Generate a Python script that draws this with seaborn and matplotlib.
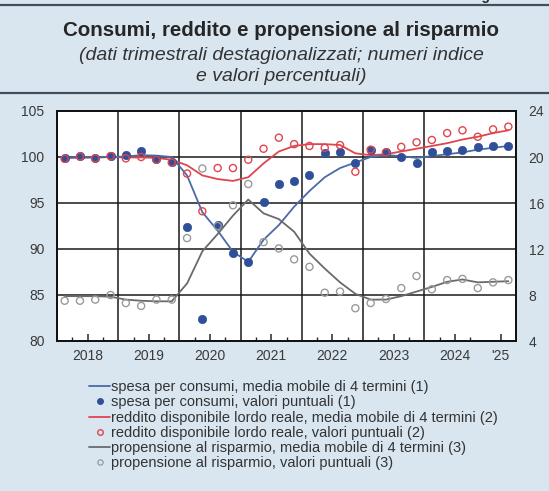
import numpy as np
import pandas as pd
import matplotlib
matplotlib.use("Agg")
import matplotlib.pyplot as plt
from matplotlib.lines import Line2D
import seaborn as sns

# ---- dati ----
trimestri = [f"{a}T{q}" for a in range(2018, 2026) for q in range(1, 5)][:30]

# spesa per consumi (numeri indice)
spesa = [99.85, 100.15, 99.9, 100.15, 100.2, 100.7, 99.8, 99.5,
         92.4, 82.4, 92.6, 89.6, 88.6, 95.1, 97.1, 97.4, 98.0, 100.4,
         100.5, 99.4, 100.8, 100.5, 99.95, 99.35, 100.5, 100.65, 100.75,
         101.05, 101.2, 101.2]
spesa_mm = [99.9, 99.95, 99.95, 100.0, 100.05, 100.2, 100.15, 100.0,
            98.0, 94.0, 92.0, 89.7, 88.6, 91.0, 92.6, 94.6, 96.3, 97.8,
            98.8, 99.4, 100.0, 100.2, 100.1, 99.9, 100.1, 100.3, 100.5,
            100.8, 101.0, 101.2]

# reddito disponibile lordo reale (numeri indice)
reddito = [99.8, 100.05, 99.85, 100.1, 99.85, 100.0, 99.7, 99.4,
           98.2, 94.1, 98.8, 98.8, 99.7, 100.9, 102.1, 101.4, 101.2, 101.0,
           101.3, 98.4, 100.8, 100.5, 101.1, 101.6, 101.85, 102.6, 102.9,
           102.2, 103.0, 103.3]
reddito_mm = [99.9, 99.95, 99.95, 100.0, 99.95, 99.95, 99.9, 99.7,
              99.1, 98.0, 97.6, 97.4, 97.8, 99.3, 100.6, 101.2, 101.4,
              101.4, 101.3, 100.4, 100.2, 100.3, 100.6, 100.9, 101.2, 101.5,
              101.9, 102.2, 102.6, 102.9]

# propensione al risparmio (valori percentuali)
risparmio = [7.5, 7.5, 7.6, 8.0, 7.3, 7.05, 7.6, 7.6,
             12.95, 19.0, 14.0, 15.8, 17.65, 12.6, 12.05, 11.1, 10.45, 8.2,
             8.3, 6.85, 7.3, 7.65, 8.6, 9.65, 8.5, 9.3, 9.4, 8.6, 9.1, 9.3]
risparmio_mm = [7.9, 7.9, 7.9, 7.85, 7.6, 7.5, 7.45, 7.45,
                9.0, 11.8, 13.3, 14.9, 16.3, 15.1, 14.6, 13.5, 11.6, 10.3,
                9.1, 8.1, 7.6, 7.6, 7.9, 8.3, 8.7, 9.15, 9.35, 9.1, 9.15, 9.2]

anni_lab = ['2018', '2019', '2020', '2021', '2022', '2023', '2024', "'25"]

df = pd.DataFrame({'trimestre': trimestri,
                   'spesa': spesa, 'spesa_mm': spesa_mm,
                   'reddito': reddito, 'reddito_mm': reddito_mm,
                   'risparmio': risparmio, 'risparmio_mm': risparmio_mm})
df['x'] = df['trimestre'].str[:4].astype(int) + (df['trimestre'].str[-1].astype(int) - 0.5) / 4

# ---- stile ----
sns.set_style("white")
plt.rcParams['font.family'] = ['Liberation Sans', 'DejaVu Sans']

BG = '#d9e6f0'
BLU = '#2f4f99'
BLU_L = '#4a6aa8'
ROSSO = '#e0454d'
GRIGIO = '#6a6a6a'
GRIGIO_P = '#9a9a9a'
TXT = '#3a3a3a'

fig = plt.figure(figsize=(5.49, 4.91), dpi=100, facecolor=BG)
ax = fig.add_axes([57 / 549, 1 - 341 / 491, 459 / 549, 230 / 491])
ax.set_facecolor('white')

# griglia
for g in [85, 90, 95, 100]:
    ax.axhline(g, color='#1a1a1a', lw=1.1, zorder=1)
for a in range(2019, 2025):
    ax.axvline(a, color='#1a1a1a', lw=1.1, zorder=1)

sns.lineplot(data=df, x='x', y='reddito_mm', ax=ax, color=ROSSO, lw=1.3, zorder=3)
sns.lineplot(data=df, x='x', y='spesa_mm', ax=ax, color=BLU_L, lw=1.3, zorder=3)
sns.scatterplot(data=df, x='x', y='spesa', ax=ax, color=BLU, s=36,
                edgecolor=BLU, linewidth=0.5, zorder=4)
sns.scatterplot(data=df, x='x', y='reddito', ax=ax, facecolor='none',
                edgecolor=ROSSO, s=26, linewidth=1.0, zorder=5)

ax.set_xlim(2018, 2025.5)
ax.set_ylim(80, 105)
ax.set_yticks([80, 85, 90, 95, 100, 105])
ax.set_xlabel('')
ax.set_ylabel('')

ax.set_xticks([2018.5 + i for i in range(7)] + [2025.25])
ax.set_xticklabels(anni_lab)
ax.set_xticks([a + f for a in range(2018, 2025) for f in (0.25, 0.75)], minor=True)
ax.tick_params(axis='x', which='major', direction='in', length=5, width=1.1,
               labelsize=10, labelcolor=TXT, pad=6, bottom=True)
ax.tick_params(axis='x', which='minor', direction='in', length=3, width=1.0, bottom=True)
ax.tick_params(axis='y', length=0, labelsize=10, labelcolor=TXT, pad=9)

ax2 = ax.twinx()
sns.lineplot(data=df, x='x', y='risparmio_mm', ax=ax2, color=GRIGIO, lw=1.3, zorder=3)
sns.scatterplot(data=df, x='x', y='risparmio', ax=ax2, facecolor='none',
                edgecolor=GRIGIO_P, s=26, linewidth=1.0, zorder=4)
ax2.set_ylim(4, 24)
ax2.set_yticks([4, 8, 12, 16, 20, 24])
ax2.set_ylabel('')
ax2.tick_params(axis='y', length=0, labelsize=10, labelcolor=TXT, pad=9)

for a_ in (ax, ax2):
    for s in a_.spines.values():
        s.set_color('#111111')
        s.set_linewidth(1.3)

# ---- titolo ----
fig.text(0.512, 1 - 30 / 491, 'Consumi, reddito e propensione al risparmio',
         ha='center', va='center', fontsize=14.8, weight='bold', color='#262626')
fig.text(0.512, 1 - 55 / 491, '(dati trimestrali destagionalizzati; numeri indice',
         ha='center', va='center', fontsize=14, style='italic', color='#333333')
fig.text(0.512, 1 - 77 / 491, 'e valori percentuali)',
         ha='center', va='center', fontsize=14, style='italic', color='#333333')
fig.text(0.855, 1 - 3 / 491, 'Figura 4.1', ha='left', va='bottom',
         fontsize=10, weight='bold', color='#262626')
for yy in (5, 93):
    fig.add_artist(Line2D([0, 1], [1 - yy / 491] * 2, transform=fig.transFigure,
                          color='#3f4f5e', lw=1.6))

# ---- legenda ----
handles = [
    Line2D([], [], color=BLU_L, lw=1.3),
    Line2D([], [], color=BLU, marker='o', ls='none', markersize=4),
    Line2D([], [], color=ROSSO, lw=1.3),
    Line2D([], [], color=ROSSO, marker='o', ls='none', markersize=4,
           markerfacecolor='none', markeredgewidth=1.0),
    Line2D([], [], color=GRIGIO, lw=1.3),
    Line2D([], [], color=GRIGIO_P, marker='o', ls='none', markersize=3.8,
           markerfacecolor='none', markeredgewidth=0.9),
]
labels = [
    'spesa per consumi, media mobile di 4 termini (1)',
    'spesa per consumi, valori puntuali (1)',
    'reddito disponibile lordo reale, media mobile di 4 termini (2)',
    'reddito disponibile lordo reale, valori puntuali (2)',
    'propensione al risparmio, media mobile di 4 termini (3)',
    'propensione al risparmio, valori puntuali (3)',
]
fig.legend(handles, labels, loc='upper left', bbox_to_anchor=(82 / 549, 1 - 373 / 491),
           frameon=False, fontsize=10.5, handlelength=1.45, handletextpad=0.05,
           labelspacing=0.08, borderpad=0, labelcolor='#333333')

fig.savefig('out.png', dpi=100, facecolor=BG)
